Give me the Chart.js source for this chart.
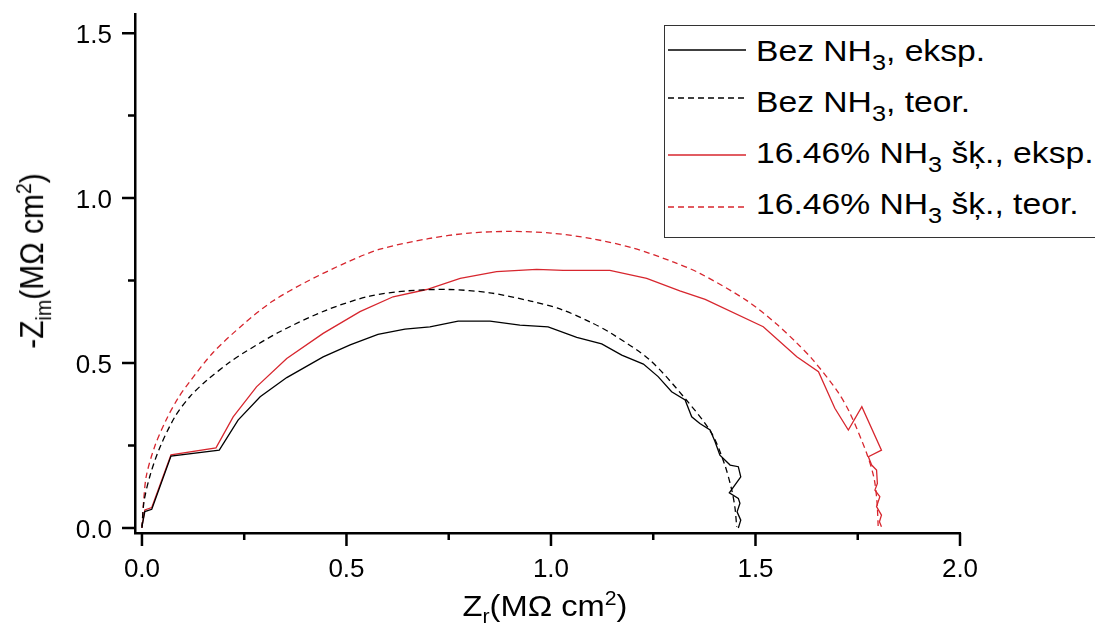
<!DOCTYPE html>
<html>
<head>
    <meta charset="utf-8">
    <title>Impedances spektri</title>
    <style>
        body {
            margin: 0;
            padding: 0;
            background-color: #ffffff;
            overflow: hidden;
            font-family: 'Liberation Sans', Arial, sans-serif;
        }
        #wrap {
            position: relative;
            width: 1095px;
            height: 624px;
        }
        .axis-title {
            position: absolute;
            font-size: 30px;
            color: #000000;
            white-space: nowrap;
        }
        .axis-title sub, .axis-title sup {
            font-size: 65%;
            line-height: 0;
        }
        #xtitle {
            left: 545px;
            top: 606px;
            transform: translate(-50%, -50%) scaleX(1.09);
        }
        #ytitle {
            left: 32px;
            top: 261px;
            transform: translate(-50%, -50%) rotate(-90deg) scaleY(1.1);
        }
        #legend {
            position: absolute;
            left: 664px;
            top: 25px;
            width: 440px;
            height: 213px;
            border: 1.5px solid #333333;
            box-sizing: border-box;
            background: #ffffff;
        }
        .sample {
            position: absolute;
            left: 3px;
        }
        .label {
            position: absolute;
            left: 91px;
            height: 34px;
            line-height: 34px;
            font-size: 29px;
            white-space: nowrap;
            transform: scaleX(1.16);
            transform-origin: 0 50%;
        }
        .label sub {
            font-size: 75%;
            line-height: 0;
            vertical-align: -9px;
        }
    </style>
    <script src="https://cdn.jsdelivr.net/npm/chart.js"></script>
</head>
<body>
<div id="wrap">
    <canvas id="nyquist" width="1095" height="624"></canvas>
    <div class="axis-title" id="xtitle">Z<sub>r</sub>(MΩ cm<sup>2</sup>)</div>
    <div class="axis-title" id="ytitle">-Z<sub>im</sub>(MΩ cm<sup>2</sup>)</div>
    <div id="legend"></div>
</div>
<script>
    // Bez NH3, eksperiments
    const bezEkspX = [0, 0.007, 0.024, 0.071, 0.189, 0.235, 0.289, 0.354, 0.443, 0.509, 0.577, 0.643, 0.704, 0.773, 0.851, 0.924, 0.993, 1.063, 1.124, 1.173, 1.226, 1.262, 1.295, 1.328, 1.344, 1.364, 1.389, 1.401, 1.413, 1.438, 1.458, 1.464, 1.436, 1.458, 1.462, 1.455, 1.464, 1.458];
    const bezEkspY = [0.004, 0.05, 0.057, 0.218, 0.236, 0.327, 0.398, 0.456, 0.519, 0.555, 0.587, 0.603, 0.61, 0.627, 0.627, 0.615, 0.61, 0.578, 0.558, 0.524, 0.497, 0.459, 0.413, 0.388, 0.337, 0.317, 0.297, 0.262, 0.221, 0.191, 0.186, 0.155, 0.107, 0.09, 0.075, 0.049, 0.024, 0.0];

    // Bez NH3, teorija
    const bezTeorX = [0, 0.005, 0.02, 0.044, 0.081, 0.117, 0.158, 0.215, 0.25, 0.337, 0.45, 0.557, 0.65, 0.75, 0.85, 0.95, 1.022, 1.095, 1.15, 1.242, 1.331, 1.393, 1.425, 1.442, 1.45, 1.454];
    const bezTeorY = [0, 0.08, 0.16, 0.245, 0.338, 0.398, 0.447, 0.503, 0.532, 0.595, 0.66, 0.703, 0.719, 0.723, 0.713, 0.688, 0.664, 0.625, 0.588, 0.509, 0.388, 0.287, 0.191, 0.115, 0.06, 0.004];

    // 16.46% NH3 šķ., eksperiments
    const nh3EkspX = [0, 0.007, 0.024, 0.071, 0.181, 0.223, 0.28, 0.354, 0.443, 0.533, 0.614, 0.696, 0.778, 0.867, 0.965, 1.03, 1.144, 1.234, 1.315, 1.377, 1.519, 1.601, 1.654, 1.694, 1.727, 1.76, 1.808, 1.776, 1.784, 1.796, 1.798, 1.792, 1.804, 1.796, 1.808, 1.803, 1.808];
    const nh3EkspY = [0.004, 0.055, 0.062, 0.222, 0.243, 0.337, 0.428, 0.514, 0.59, 0.656, 0.701, 0.723, 0.757, 0.777, 0.784, 0.781, 0.781, 0.757, 0.719, 0.693, 0.61, 0.519, 0.474, 0.363, 0.297, 0.368, 0.236, 0.216, 0.191, 0.176, 0.135, 0.115, 0.095, 0.065, 0.039, 0.019, 0.004];

    // 16.46% NH3 šķ., teorija
    const nh3TeorX = [0, 0.004, 0.011, 0.032, 0.06, 0.089, 0.117, 0.174, 0.25, 0.32, 0.4, 0.5, 0.582, 0.7, 0.8, 0.9, 1.0, 1.1, 1.2, 1.3, 1.364, 1.478, 1.55, 1.6, 1.641, 1.7, 1.731, 1.772, 1.79, 1.797, 1.8];
    const nh3TeorY = [0, 0.08, 0.16, 0.25, 0.33, 0.395, 0.444, 0.532, 0.62, 0.688, 0.745, 0.805, 0.845, 0.877, 0.894, 0.899, 0.894, 0.877, 0.849, 0.806, 0.772, 0.69, 0.62, 0.562, 0.509, 0.415, 0.348, 0.226, 0.15, 0.08, 0.004];

    const seriesNames = ['Bez NH<sub>3</sub>, eksp.', 'Bez NH<sub>3</sub>, teor.', '16.46% NH<sub>3</sub> šķ., eksp.', '16.46% NH<sub>3</sub> šķ., teor.'];
    const xTicks = [0, 0.5, 1.0, 1.5, 2.0];
    const yTicks = [0, 0.5, 1.0, 1.5];
    const minorX = [0.25, 0.75, 1.25, 1.75];
    const minorY = [0.25, 0.75, 1.25];

    const RED = '#d7262e';
    const BLACK = '#000000';

    function pts(xs, ys) {
        return xs.map((x, i) => ({x: x, y: ys[i]}));
    }

    // outward ticks (long for labelled values, short for minor ones) and tick labels
    const axisTicks = {
        id: 'axisTicks',
        afterDraw(chart) {
            const ctx = chart.ctx;
            const sx = chart.scales.x;
            const sy = chart.scales.y;
            const bottom = chart.chartArea.bottom;
            const left = chart.chartArea.left;
            ctx.save();
            ctx.strokeStyle = '#000';
            ctx.lineWidth = 2.5;
            ctx.beginPath();
            xTicks.forEach(v => {
                const p = sx.getPixelForValue(v);
                ctx.moveTo(p, bottom); ctx.lineTo(p, bottom + 13);
            });
            minorX.forEach(v => {
                const p = sx.getPixelForValue(v);
                ctx.moveTo(p, bottom); ctx.lineTo(p, bottom + 7);
            });
            yTicks.forEach(v => {
                const p = sy.getPixelForValue(v);
                ctx.moveTo(left, p); ctx.lineTo(left - 13, p);
            });
            minorY.forEach(v => {
                const p = sy.getPixelForValue(v);
                ctx.moveTo(left, p); ctx.lineTo(left - 7, p);
            });
            ctx.stroke();

            ctx.fillStyle = '#000';
            ctx.font = "26px 'Liberation Sans', Arial, sans-serif";
            ctx.textBaseline = 'alphabetic';
            ctx.textAlign = 'center';
            xTicks.forEach(v => {
                ctx.fillText(v.toFixed(1), sx.getPixelForValue(v), bottom + 44);
            });
            ctx.textAlign = 'right';
            yTicks.forEach(v => {
                ctx.fillText(v.toFixed(1), left - 23, sy.getPixelForValue(v) + 10);
            });
            ctx.restore();
        }
    };

    new Chart(document.getElementById('nyquist'), {
        type: 'scatter',
        data: {
            datasets: [
                {label: 'Bez NH3, eksp.', data: pts(bezEkspX, bezEkspY), borderColor: BLACK, borderWidth: 1.3, tension: 0},
                {label: 'Bez NH3, teor.', data: pts(bezTeorX, bezTeorY), borderColor: BLACK, borderWidth: 1.3, borderDash: [6, 4], tension: 0.3},
                {label: '16.46% NH3 šķ., eksp.', data: pts(nh3EkspX, nh3EkspY), borderColor: RED, borderWidth: 1.3, tension: 0},
                {label: '16.46% NH3 šķ., teor.', data: pts(nh3TeorX, nh3TeorY), borderColor: RED, borderWidth: 1.3, borderDash: [6, 4], tension: 0.3}
            ]
        },
        options: {
            responsive: false,
            animation: false,
            devicePixelRatio: 1,
            showLine: true,
            elements: {point: {radius: 0}},
            layout: {padding: {left: 0, top: 14, right: 135, bottom: 0}},
            plugins: {legend: {display: false}, tooltip: {enabled: false}},
            scales: {
                x: {
                    type: 'linear',
                    min: -0.017,
                    max: 2.0,
                    grid: {display: false, drawTicks: false},
                    border: {display: true, width: 2.5, color: '#000'},
                    ticks: {display: false, stepSize: 0.5, includeBounds: false},
                    afterFit: s => { s.height = 91; s.paddingLeft = 0; s.paddingRight = 0; }
                },
                y: {
                    type: 'linear',
                    min: -0.015,
                    max: 1.558,
                    grid: {display: false, drawTicks: false},
                    border: {display: true, width: 2.5, color: '#000'},
                    ticks: {display: false, stepSize: 0.5, includeBounds: false},
                    afterFit: s => { s.width = 135; s.paddingTop = 0; s.paddingBottom = 0; }
                }
            }
        },
        plugins: [axisTicks]
    });

    // legend drawn as html so the subscripts stay real text
    const legend = document.getElementById('legend');
    const lineTops = [22, 70, 127, 179];
    const textTops = [8, 59, 110, 161];
    const styles = [
        {color: BLACK, dash: ''},
        {color: BLACK, dash: '6 4'},
        {color: RED, dash: ''},
        {color: RED, dash: '6 4'}
    ];
    seriesNames.forEach((name, i) => {
        const svg = document.createElementNS('http://www.w3.org/2000/svg', 'svg');
        svg.setAttribute('class', 'sample');
        svg.setAttribute('width', '80');
        svg.setAttribute('height', '4');
        svg.style.top = lineTops[i] + 'px';
        svg.innerHTML = '<line x1="0" y1="2" x2="78" y2="2" stroke="' + styles[i].color + '" stroke-width="1.3"' +
            (styles[i].dash ? ' stroke-dasharray="' + styles[i].dash + '"' : '') + '/>';
        legend.appendChild(svg);
        const label = document.createElement('div');
        label.className = 'label';
        label.style.top = textTops[i] + 'px';
        label.innerHTML = name;
        legend.appendChild(label);
    });
</script>
</body>
</html>
